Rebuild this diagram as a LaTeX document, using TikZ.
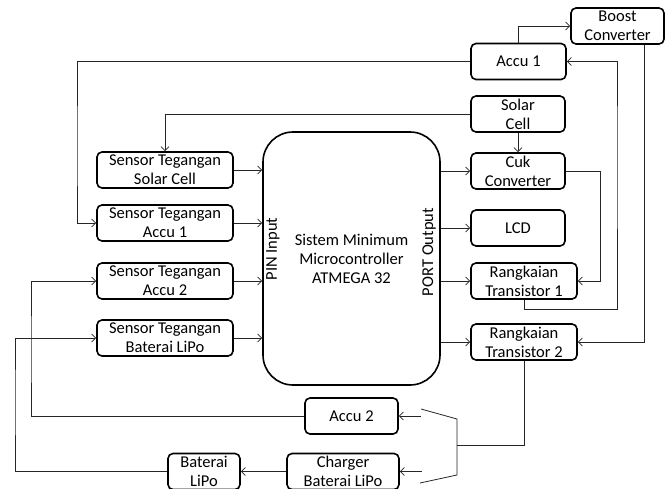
\documentclass[tikz,border=0pt]{standalone}
\usepackage{fontspec}
\setmainfont{Carlito}
\usetikzlibrary{arrows.meta}
\begin{document}
\begin{tikzpicture}[x=1pt,y=-1pt,
  blk/.style={draw, line width=1.6pt, rounded corners=5pt, align=center, inner sep=0pt,
    minimum height=36pt, font=\fontsize{16.5}{19}\selectfont},
  lbl/.style={inner sep=0pt, font=\fontsize{16.5}{19}\selectfont},
  con/.style={line width=0.8pt, draw=black!85},
  arr/.style={con, -{Straight Barb[length=4pt,width=8pt]}}]
\useasboundingbox (0,0) rectangle (670,488);

% boxes
\node[blk, minimum width=93pt] (boost) at (617.5,26) {Boost\\Converter};
\node[blk, minimum width=95pt] (accu1) at (518.5,61.5) {Accu 1};
\node[blk, minimum width=94pt] (solar) at (518,114) {Solar\\Cell};
\node[blk, minimum width=94pt] (cuk) at (518,171) {Cuk\\Converter};
\node[blk, minimum width=94pt] (lcd) at (518,228) {LCD};
\node[blk, minimum width=106pt] (rt1) at (524,281) {Rangkaian\\Transistor 1};
\node[blk, minimum width=106pt] (rt2) at (524,342) {Rangkaian\\Transistor 2};
\node[blk, minimum width=177pt, minimum height=253pt, rounded corners=30pt] (mcu) at (351.5,258.5)
  {Sistem Minimum\\Microcontroller\\ATMEGA 32};
\node[blk, minimum width=136pt] (s1) at (165,170) {Sensor Tegangan\\Solar Cell};
\node[blk, minimum width=136pt] (s2) at (165,223) {Sensor Tegangan\\Accu 1};
\node[blk, minimum width=136pt] (s3) at (165,281) {Sensor Tegangan\\Accu 2};
\node[blk, minimum width=136pt] (s4) at (165,338) {Sensor Tegangan\\Baterai LiPo};
\node[blk, minimum width=93pt] (accu2) at (351.5,416) {Accu 2};
\node[blk, minimum width=112pt] (charger) at (343,471.5) {Charger\\Baterai LiPo};
\node[blk, minimum width=72pt] (bat) at (204,471.5) {Baterai\\LiPo};

\node[lbl, rotate=90] (pin) at (273,249) {PIN Input};
\node[lbl, rotate=90] (port) at (429,252) {PORT Output};

% top right connectors
\draw[arr] (accu1.north) |- (boost.west);
\draw[arr] ([xshift=26.5pt]boost.south) |- (rt2.east);
\draw[arr] (rt1.south) -- (rt1.south |- 0,309) -| (617,150) |- (accu1.east);
\draw[arr] (cuk.east) -- ++(35,0) |- (rt1.east);
\draw[arr] (solar.south) -- (cuk.north);
\draw[arr] (solar.west) -| (s1.north);
\draw[arr] (accu1.west) -| (77,150) |- (s2.west);

% sensors to mcu
\foreach \s in {s1,s2,s3,s4} \draw[arr] (\s.east) -- (\s.east -| mcu.west);
% mcu to outputs
\foreach \o in {cuk,lcd,rt1,rt2} \draw[arr] (\o.west -| mcu.east) -- (\o.west);

% bottom
\draw[con] (rt2.south) |- (457,445);
\draw[con] (421,409) -- (457,419) -- (457,475) -- (420,483);
\draw[arr] ([xshift=22pt]accu2.east) -- (accu2.east);
\draw[arr] ([xshift=22pt]charger.east) -- (charger.east);
\draw[arr] (charger.west) -- (bat.east);
\draw[arr] (accu2.west) -| (31,350) |- (s3.west);
\draw[arr] (bat.west) -| (15,400) |- (s4.west);
\end{tikzpicture}
\end{document}
